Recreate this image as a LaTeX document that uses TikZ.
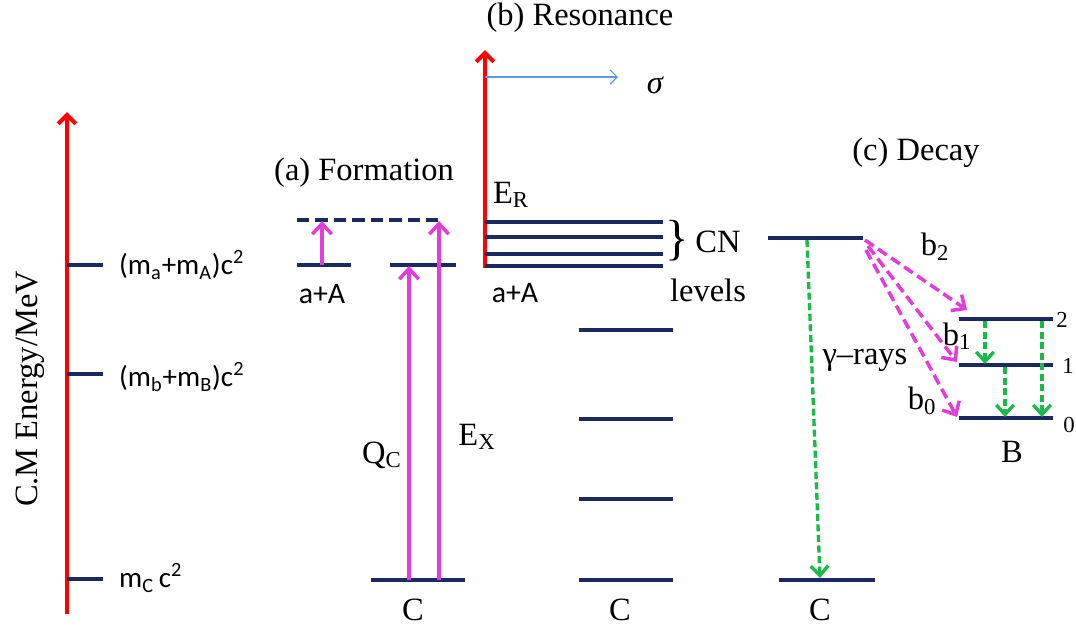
\documentclass[tikz,border=0pt]{standalone}
\usepackage{fontspec}
\setmainfont{Liberation Serif}
\newfontfamily\calfont{Carlito}
\usepackage{tikz}
\usetikzlibrary{arrows.meta,positioning}

\definecolor{navy}{RGB}{28,40,96}
\definecolor{pinkarr}{RGB}{226,60,218}
\definecolor{greenarr}{RGB}{24,186,72}
\definecolor{skyarr}{RGB}{96,150,222}

\begin{document}
\begin{tikzpicture}[x=0.02cm, y=-0.02cm,
		lvl/.style={navy, line width=2pt},
		redax/.style={red, line width=2.4pt, -{Straight Barb[length=5pt,width=10pt]}},
		pinkup/.style={pinkarr, line width=2pt, -{Straight Barb[length=6pt,width=11pt]}},
		pinkdash/.style={pinkup, dash pattern=on 6pt off 3pt},
		greendash/.style={greenarr, line width=1.9pt, dash pattern=on 4pt off 2pt, -{Straight Barb[length=5.5pt,width=10pt]}},
		ser/.style={font=\fontsize{18.5}{22}\selectfont},
		sans/.style={font=\calfont\fontsize{16.5}{20}\selectfont},
		small/.style={font=\fontsize{13}{15}\selectfont}]
		\useasboundingbox (0,0) rectangle (1076,627);

		% Energy axis
		\coordinate (axbot) at (67,614);
		\coordinate (axtop) at (67,112);
		\draw[redax] (axbot) -- (axtop);
		\draw[lvl] (67,265) -- (103,265);
		\draw[lvl] (67,374) -- (103,374);
		\draw[lvl] (67,579) -- (103,579);
		\node[sans, anchor=west] (mA) at (113,265) {(m\textsubscript{a}+m\textsubscript{A})c\textsuperscript{2}};
		\node[sans, anchor=west] (mB) at (113,377) {(m\textsubscript{b}+m\textsubscript{B})c\textsuperscript{2}};
		\node[sans, anchor=west] (mC) at (113,578) {m\textsubscript{C}\,c\textsuperscript{2}};
		\node[ser, rotate=90] (enlab) at (30,389) {C.M Energy/MeV};

		% (a) Formation
		\node[ser] (tita) at (364,173) {(a) Formation};
		\draw[lvl, dashed, dash pattern=on 7pt off 3.5pt] (297,220) -- (443,220);
		\draw[lvl] (297,265) -- (351,265);
		\draw[lvl] (390,265) -- (456,265);
		\draw[lvl] (371,580) -- (465,580);
		\coordinate (aA0) at (322,265);
		\coordinate (aA1) at (322,221);
		\coordinate (qc0) at (409,580);
		\coordinate (qc1) at (409,266);
		\coordinate (ex0) at (439,580);
		\coordinate (ex1) at (439,221);
		\draw[pinkup] (aA0) -- (aA1);
		\draw[pinkup] (qc0) -- (qc1);
		\draw[pinkup] (ex0) -- (ex1);
		\node[sans, font=\calfont\fontsize{17}{20}\selectfont] (aAa) at (322,294) {a+A};
		\node[ser] (qc) at (382,455) {Q\textsubscript{C}};
		\node[ser] (ex) at (477,437) {E\textsubscript{X}};
		\node[ser] (Ca) at (413,610) {C};

		% (b) Resonance
		\node[ser] (titb) at (580,18) {(b) Resonance};
		\coordinate (er0) at (485,268);
		\coordinate (er1) at (485,50);
		\draw[redax] (er0) -- (er1);
		\coordinate (sg0) at (485,77);
		\coordinate (sg1) at (618,77);
		\draw[skyarr, line width=0.7pt, -{Straight Barb[length=4pt,width=8pt]}] (sg0) -- (sg1);
		\node[ser, font=\itshape\fontsize{18.5}{22}\selectfont] (sig) at (655,85) {σ};
		\node[ser] (er) at (511,195) {E\textsubscript{R}};
		\foreach \y in {222,237,254,266}
			\draw[lvl] (485,\y) -- (663,\y);
		\node[font=\fontsize{28}{30}\selectfont] (brace) at (677,241) {\}};
		\node[ser] (cn) at (718,242) {CN};
		\node[ser] (lev) at (708,290) {levels};
		\node[sans, font=\calfont\fontsize{17}{20}\selectfont] (aAb) at (515,293) {a+A};

		% C levels
		\foreach \y in {330,419,499,580}
			\draw[lvl] (579,\y) -- (673,\y);
		\node[ser] (Cb) at (620,610) {C};

		% (c) Decay
		\node[ser] (titc) at (916,153) {(c) Decay};
		\draw[lvl] (768,238) -- (863,238);
		\draw[lvl] (779,580) -- (875,580);
		\node[ser] (Cc) at (820,610) {C};
		\coordinate (g0) at (807,240);
		\coordinate (g1) at (820,578);
		\draw[greendash] (g0) -- (g1);
		\node[ser] (gam) at (865,360) {γ–rays};

		% B levels
		\draw[lvl] (959,319) -- (1053,319);
		\draw[lvl] (959,365) -- (1053,365);
		\draw[lvl] (959,418) -- (1053,418);
		\node[small] (n2) at (1062,320) {2};
		\node[small] (n1) at (1068,366) {1};
		\node[small] (n0) at (1069,425) {0};
		\node[ser] (B) at (1012,452) {B};

		\coordinate (p2) at (865,240);
		\coordinate (p1) at (868,246);
		\coordinate (p0) at (866,250);
		\coordinate (q2) at (967,310);
		\coordinate (q1) at (957,362);
		\coordinate (q0) at (957,417);
		\draw[pinkdash] (p2) -- (q2);
		\draw[pinkdash] (p1) -- (q1);
		\draw[pinkdash] (p0) -- (q0);
		\node[ser] (b2) at (935,247) {b\textsubscript{2}};
		\node[ser] (b1) at (957,336) {b\textsubscript{1}};
		\node[ser] (b0) at (922,401) {b\textsubscript{0}};

		\coordinate (t21a) at (985,321);
		\coordinate (t21b) at (985,364);
		\coordinate (t20a) at (1042,321);
		\coordinate (t20b) at (1042,417);
		\coordinate (t10a) at (1005,367);
		\coordinate (t10b) at (1005,417);
		\draw[greendash] (t21a) -- (t21b);
		\draw[greendash] (t20a) -- (t20b);
		\draw[greendash] (t10a) -- (t10b);
	\end{tikzpicture}
\end{document}
